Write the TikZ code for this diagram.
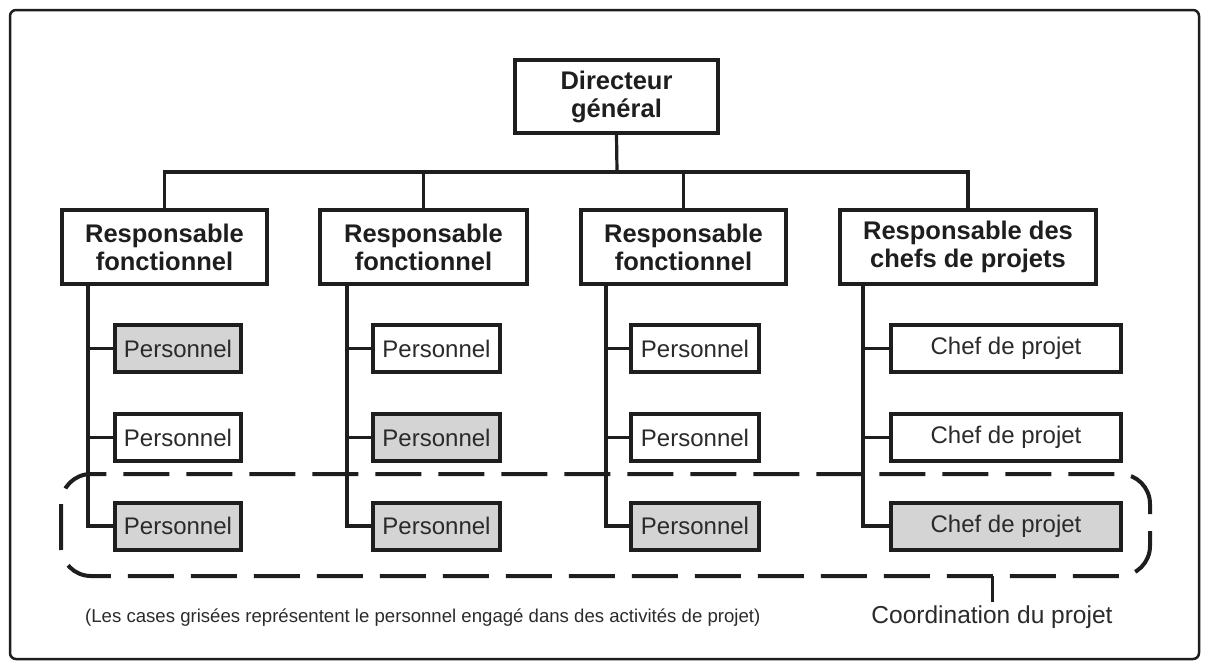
\documentclass[tikz,border=0pt]{standalone}
\usepackage{fontspec}
\setmainfont{Liberation Sans}
\definecolor{ink}{HTML}{1E1E1E}
\definecolor{txt}{HTML}{2A2A2A}
\definecolor{shade}{HTML}{D4D4D4}
\begin{document}
\begin{tikzpicture}[x=1pt,y=-1pt,
  box/.style={draw=ink,line width=4pt,inner sep=0pt,align=center,fill=white},
  headbox/.style={box,font=\fontsize{25.5}{28}\selectfont\bfseries,text=ink},
  staffbox/.style={box,font=\fontsize{24}{26}\selectfont,text=txt,minimum height=47pt},
  grey/.style={fill=shade},
  link/.style={draw=ink,line width=3.2pt,line join=miter},
  group/.style={draw=ink,line width=4pt,dash pattern=on 46pt off 17pt,rounded corners=30pt}]
\useasboundingbox (0,0) rectangle (1206,664);
\draw[ink,line width=2.5pt,rounded corners=6pt] (10,10) rectangle (1199,659);

\node[headbox,minimum width=203pt,minimum height=73pt] (dir) at (616.5,96.5) {Directeur\\général};
\node[headbox,minimum width=205pt,minimum height=74pt] (r1) at (164.5,247) {Responsable\\fonctionnel};
\node[headbox,minimum width=207pt,minimum height=74pt] (r2) at (423.5,247) {Responsable\\fonctionnel};
\node[headbox,minimum width=205pt,minimum height=74pt] (r3) at (683.5,247) {Responsable\\fonctionnel};
\node[headbox,minimum width=256pt,minimum height=74pt] (r4) at (968,247) {Responsable des\\chefs de projets};

\node[staffbox,grey,minimum width=126pt] (p11) at (178,348.5) {Personnel};
\node[staffbox,minimum width=126pt] (p12) at (178,437.5) {Personnel};
\node[staffbox,grey,minimum width=126pt] (p13) at (178,526) {Personnel};
\node[staffbox,minimum width=127pt] (p21) at (436.5,348.5) {Personnel};
\node[staffbox,grey,minimum width=127pt] (p22) at (436.5,437.5) {Personnel};
\node[staffbox,grey,minimum width=127pt] (p23) at (436.5,526) {Personnel};
\node[staffbox,minimum width=128pt] (p31) at (695,348.5) {Personnel};
\node[staffbox,minimum width=128pt] (p32) at (695,437.5) {Personnel};
\node[staffbox,grey,minimum width=128pt] (p33) at (695,526) {Personnel};
\node[staffbox,minimum width=230pt] (p41) at (1006,348.5) {Chef de projet};
\node[staffbox,minimum width=230pt] (p42) at (1006,437.5) {Chef de projet};
\node[staffbox,grey,minimum width=230pt] (p43) at (1006,526) {Chef de projet};

% hierarchy connectors
\coordinate (bar) at (617,172);
\draw[link] (dir.south) -- (bar);
\draw[link] (r1.north) |- (bar) -| (r4.north);
\draw[link] (r2.north) -- (r2.north |- bar);
\draw[link] (r3.north) -- (r3.north |- bar);

\coordinate (s1) at (88,0);
\coordinate (s2) at (347,0);
\coordinate (s3) at (606,0);
\coordinate (s4) at (863,0);
\draw[link] (s1 |- r1.south) |- (p13.west);
\draw[link] (s1 |- p11.west) -- (p11.west);
\draw[link] (s1 |- p12.west) -- (p12.west);
\draw[link] (s2 |- r2.south) |- (p23.west);
\draw[link] (s2 |- p21.west) -- (p21.west);
\draw[link] (s2 |- p22.west) -- (p22.west);
\draw[link] (s3 |- r3.south) |- (p33.west);
\draw[link] (s3 |- p31.west) -- (p31.west);
\draw[link] (s3 |- p32.west) -- (p32.west);
\draw[link] (s4 |- r4.south) |- (p43.west);
\draw[link] (s4 |- p41.west) -- (p41.west);
\draw[link] (s4 |- p42.west) -- (p42.west);

% project coordination group
\draw[group] (61,474) rectangle (1150,576);
\coordinate (tick) at (992,576);
\node[font=\fontsize{24.5}{27}\selectfont,text=txt,inner sep=0pt] (coord) at (992,617) {Coordination du projet};
\draw[ink,line width=3pt] (tick) -- (tick |- 0,602);

\node[font=\fontsize{18.6}{21}\selectfont,text=txt,anchor=west,inner sep=0pt] (note) at (85,618)
  {(Les cases grisées représentent le personnel engagé dans des activités de projet)};
\end{tikzpicture}
\end{document}
